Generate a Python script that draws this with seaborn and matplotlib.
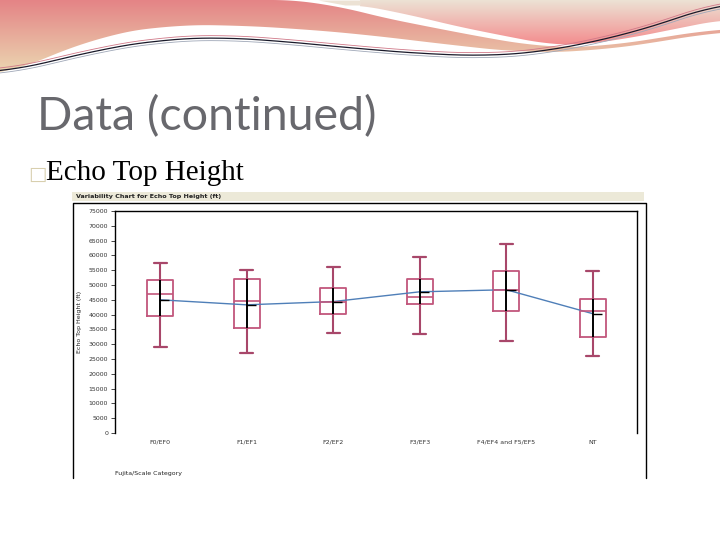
import numpy as np
import pandas as pd
import matplotlib
matplotlib.use("Agg")
import matplotlib.pyplot as plt
from matplotlib.patches import Polygon
from matplotlib.colors import LinearSegmentedColormap
import seaborn as sns

# box summaries (ft)
categories = ["F0/EF0", "F1/EF1", "F2/EF2", "F3/EF3", "F4/EF4 and F5/EF5", "NT"]
whisker_lo = [29200, 26900, 33900, 33300, 31200, 25900]
q1 = [39600, 35600, 40300, 43700, 41300, 32600]
median = [47000, 44700, 44400, 46000, 48400, 41300]
q3 = [51700, 52000, 49000, 52100, 54800, 45400]
whisker_hi = [57500, 55100, 56100, 59500, 63800, 54800]
means = [45000, 43300, 44400, 47700, 48400, 40300]
yticks = list(range(0, 75001, 5000))

sns.set_theme(style="white")
plt.rcParams["font.family"] = ["DejaVu Sans"]

# five points per group -> quartiles land exactly on the read values
rows = []
for i, c in enumerate(categories):
    for v in (whisker_lo[i], q1[i], median[i], q3[i], whisker_hi[i]):
        rows.append({"cat": c, "val": v})
df = pd.DataFrame(rows)

W, H = 720, 540
fig = plt.figure(figsize=(7.2, 5.4), dpi=100)
fig.patch.set_facecolor("white")

# ---- slide decoration (pixel space) ----
bg = fig.add_axes([0, 0, 1, 1])
bg.set_xlim(0, W)
bg.set_ylim(H, 0)
bg.axis("off")


def smooth(px, py, n=240):
    # smooth a polyline by interpolating then running a small moving average
    x = np.linspace(px[0], px[-1], n)
    y = np.interp(x, px, py)
    k = 15
    yp = np.pad(y, k, mode="edge")
    y = np.convolve(yp, np.ones(2 * k + 1) / (2 * k + 1), mode="valid")
    return x, y


def grad_fill(verts, c_top, c_bot, y0, y1):
    cmap = LinearSegmentedColormap.from_list("g", [c_top, c_bot])
    im = bg.imshow(np.linspace(0, 1, 100).reshape(-1, 1), cmap=cmap, aspect="auto",
                   extent=(0, W, y1, y0), zorder=1)
    poly = Polygon(verts, closed=True, transform=bg.transData, fc="none", ec="none")
    bg.add_patch(poly)
    im.set_clip_path(poly)


# left swoosh: pink on top, beige lower
lbx, lby = smooth([0, 33, 100, 167, 233, 300, 360, 460, 527, 593, 660, 720],
                  [77, 63, 36, 25, 25, 29, 34, 46, 53, 51, 42, 31])
ltx, lty = smooth([0, 318, 360, 410, 460, 510, 547, 600, 660, 720],
                  [0, 0, 13, 23, 33, 42, 48, 47, 38, 28])
verts = list(zip(lbx, lby)) + list(zip(ltx[::-1], lty[::-1]))
grad_fill(verts, "#e48486", "#ecdcb4", 0, 78)
bg.set_xlim(0, W)
bg.set_ylim(H, 0)

# right swoosh: cream on top, pink lower
rtx, rty = smooth([360, 410, 460, 510, 547, 580, 630, 680, 720],
                  [5, 15, 27, 37, 44, 45, 38, 28, 20])
verts = [(360, 0), (720, 0)] + list(zip(rtx[::-1], rty[::-1]))
grad_fill(verts, "#ece2d4", "#f48a8c", 0, 46)
bg.fill_between([318, 345, 360], [0, 0, 0], [0, 5, 5], color="#ece2d4", lw=0, zorder=1)
bg.set_xlim(0, W)
bg.set_ylim(H, 0)

# thin lines
lx, ly = smooth([0, 50, 100, 167, 217, 267, 333, 360, 443, 493, 543, 593, 643, 693, 720],
                [73, 62, 49, 39, 37, 40, 46, 49, 55, 56, 52, 42, 30, 13, 2])
bg.plot(lx, ly, color="#1a1a2a", lw=0.9, zorder=2)
bg.plot(lx, ly - 2.5, color="#d07888", lw=0.6, zorder=2)
bg.plot(lx, ly + 2.5, color="#a0a8b8", lw=0.6, zorder=2)

bg.text(37, 117, "Data (continued)", fontsize=33.5, color="#68686d",
        family=["Lato", "DejaVu Sans"], va="center", ha="left")
bg.text(28, 174, "\u25a1", fontsize=14, color="#d8cfae",
        family=["DejaVu Sans"], va="center", ha="left")
bg.text(46, 173, "Echo Top Height", fontsize=21, color="black",
        family=["Liberation Serif", "DejaVu Sans"], va="center", ha="left")

# embedded chart frame
bg.add_patch(plt.Rectangle((72, 192), 572, 9, color="#ece9d8", lw=0))
bg.text(76, 196.5, "Variability Chart for Echo Top Height (ft)", fontsize=4.6,
        fontweight="bold", va="center", ha="left", color="#222222")
bg.plot([73, 73, 646, 646], [478, 203, 203, 478], color="black", lw=1.0)
bg.text(80, 322, "Echo Top Height (ft)", fontsize=4.5, rotation=90,
        va="center", ha="center", color="#222222")
bg.text(115, 474, "Fujita/Scale Category", fontsize=4.5, va="center",
        ha="left", color="#222222")

# ---- chart ----
ax = fig.add_axes([115 / W, 1 - 433 / H, 522 / W, 222 / H])
box_col = "#c2567c"
wh_col = "#a8476a"
sns.boxplot(data=df, x="cat", y="val", order=categories, whis=(0, 100),
            width=0.3, fill=False, color=box_col, linewidth=1.2, ax=ax,
            whiskerprops={"color": wh_col, "lw": 1.5},
            capprops={"color": wh_col, "lw": 1.6},
            medianprops={"color": box_col, "lw": 1.2},
            boxprops={"color": box_col, "lw": 1.3})
pos = np.arange(len(categories))
ax.vlines(pos, q1, q3, color="black", lw=1.4, zorder=3)
sns.lineplot(x=pos, y=means, color="#4f7fb8", lw=1.0, sort=False, ax=ax)
ax.scatter(pos + 0.05, means, marker="_", color="black", s=60, lw=1.0, zorder=4)

ax.set_xlim(-0.52, 5.51)
ax.set_ylim(0, 74700)
ax.set_yticks(yticks)
ax.set_yticklabels([str(t) for t in yticks], fontsize=4.5, color="#333333")
ax.set_xticks(pos)
ax.set_xticklabels(categories, fontsize=4.5, color="#333333")
ax.tick_params(axis="y", length=3, width=0.6, pad=2, left=True)
ax.tick_params(axis="x", length=0, pad=5)
ax.set_xlabel("")
ax.set_ylabel("")
for s in ("left", "top", "right"):
    ax.spines[s].set_color("black")
    ax.spines[s].set_linewidth(1.0)
ax.spines["bottom"].set_visible(False)
ax.set_facecolor("white")

fig.savefig("out.png", dpi=100)
